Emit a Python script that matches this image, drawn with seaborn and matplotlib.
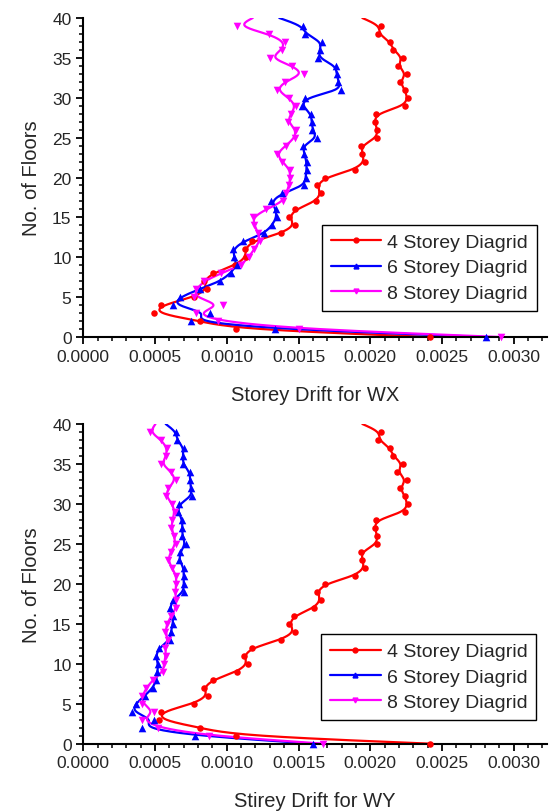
import numpy as np
import pandas as pd
import matplotlib
matplotlib.use("Agg")
import matplotlib.pyplot as plt
import seaborn as sns
from matplotlib.lines import Line2D
from matplotlib.ticker import MultipleLocator, FormatStrFormatter

# floors 0..40
floors = list(range(41))
labels = ["4 Storey Diagrid", "6 Storey Diagrid", "8 Storey Diagrid"]
colors = ["#ff0000", "#0000ff", "#ff00ff"]
markers = ["o", "^", "v"]

# storey drift for WX (floor 0 -> 40)
red_wx = [0.00242, 0.001065, 0.000815, 0.000496, 0.000544, 0.00077, 0.000864, 0.000838, 0.000901, 0.00106,
          0.001134, 0.001128, 0.001174, 0.001378, 0.001475, 0.001435, 0.001477, 0.00162, 0.001656, 0.001628,
          0.001685, 0.001892, 0.001961, 0.001944, 0.001938, 0.002047, 0.002049, 0.00203, 0.002042, 0.002239,
          0.00226, 0.00224, 0.002206, 0.002253, 0.00219, 0.002227, 0.00216, 0.00214, 0.002056, 0.002072,
          0.001945]
blue_wx = [0.00281, 0.001338, 0.000748, 0.00088, 0.000625, 0.000672, 0.00081, 0.000956, 0.001026, 0.00107,
           0.001053, 0.001042, 0.001116, 0.001262, 0.001315, 0.001347, 0.001343, 0.001308, 0.001385, 0.00154,
           0.00155, 0.001556, 0.001556, 0.00154, 0.001528, 0.001632, 0.001597, 0.001593, 0.001586, 0.001524,
           0.001547, 0.001799, 0.001778, 0.001767, 0.00176, 0.001637, 0.001648, 0.001662, 0.001547, 0.001528,
           0.001366]
mag_wx = [0.00291, 0.001505, 0.000938, 0.000783, 0.000972, 0.000771, 0.000787, 0.00084, 0.000961, 0.0011,
          0.001153, 0.00119, 0.001232, 0.00122, 0.001192, 0.00118, 0.001273, 0.001394, 0.001412, 0.001435,
          0.001442, 0.00144, 0.001385, 0.001347, 0.001412, 0.001475, 0.001482, 0.001424, 0.001447, 0.001482,
          0.001431, 0.001347, 0.001403, 0.001535, 0.001458, 0.001301, 0.001385, 0.001406, 0.001292, 0.001072,
          0.001181]

# storey drift for WY
red_wy = [0.00242, 0.001065, 0.000815, 0.00053, 0.000544, 0.000769, 0.000868, 0.000838, 0.000903, 0.001072,
          0.001146, 0.001118, 0.001176, 0.001378, 0.001475, 0.001435, 0.00147, 0.00161, 0.001656, 0.001628,
          0.001685, 0.001892, 0.001961, 0.001944, 0.001938, 0.002047, 0.002049, 0.00203, 0.002042, 0.002239,
          0.00226, 0.00224, 0.002206, 0.002253, 0.002188, 0.002227, 0.002158, 0.00214, 0.002056, 0.002072,
          0.001945]
blue_wy = [0.001604, 0.000776, 0.00041, 0.000493, 0.00034, 0.000364, 0.000428, 0.000486, 0.000509, 0.000517,
           0.000521, 0.000505, 0.000528, 0.000607, 0.000609, 0.000625, 0.000625, 0.000602, 0.000625, 0.0007,
           0.0007, 0.0007, 0.0007, 0.000667, 0.000676, 0.000713, 0.00069, 0.00069, 0.00069, 0.00066,
           0.000667, 0.00076, 0.000748, 0.000746, 0.000741, 0.000694, 0.000694, 0.0007, 0.000653, 0.000648,
           0.000574]
mag_wy = [0.001674, 0.000873, 0.000521, 0.000412, 0.000495, 0.000412, 0.000412, 0.00044, 0.000486, 0.000556,
          0.000563, 0.000574, 0.000572, 0.00059, 0.000572, 0.000583, 0.000614, 0.000648, 0.000644, 0.000642,
          0.000648, 0.000648, 0.000618, 0.00059, 0.000609, 0.000644, 0.000632, 0.000614, 0.000621, 0.000637,
          0.000621, 0.000574, 0.000593, 0.000644, 0.000614, 0.000544, 0.000579, 0.000583, 0.000544, 0.000463,
          0.000503]


def smooth(x, y, n=12):
    # uniform cubic b-spline with the data as control points (origin b-spline look)
    p = np.column_stack([x, y]).astype(float)
    p = np.vstack([2 * p[0] - p[1], p, 2 * p[-1] - p[-2]])
    t = np.linspace(0, 1, n, endpoint=False)[:, None]
    b0 = (1 - t)**3 / 6
    b1 = (3 * t**3 - 6 * t**2 + 4) / 6
    b2 = (-3 * t**3 + 3 * t**2 + 3 * t + 1) / 6
    b3 = t**3 / 6
    out = []
    for i in range(len(p) - 3):
        out.append(b0 * p[i] + b1 * p[i + 1] + b2 * p[i + 2] + b3 * p[i + 3])
    out.append((p[-3] + 4 * p[-2] + p[-1])[None, :] / 6)
    out = np.vstack(out)
    return out[:, 0], out[:, 1]


def draw_panel(ax, series, xlabel, legend_anchor):
    for vals, c, m in zip(series, colors, markers):
        sx, sy = smooth(vals, floors)
        curve = pd.DataFrame({"drift": sx, "floor": sy})
        sns.lineplot(data=curve, x="drift", y="floor", sort=False, estimator=None,
                     color=c, linewidth=1.6, ax=ax)
        pts = pd.DataFrame({"drift": vals[:-1], "floor": floors[:-1]})
        sns.scatterplot(data=pts, x="drift", y="floor", marker=m, s=22 if m == "o" else 30,
                        color=c, edgecolor=c, linewidth=0, ax=ax, clip_on=False, zorder=3)

    ax.set_xlim(0, 0.00323)
    ax.set_ylim(0, 40)
    ax.xaxis.set_major_locator(MultipleLocator(0.0005))
    ax.xaxis.set_minor_locator(MultipleLocator(0.0001))
    ax.xaxis.set_major_formatter(FormatStrFormatter("%.4f"))
    ax.yaxis.set_major_locator(MultipleLocator(5))
    ax.yaxis.set_minor_locator(MultipleLocator(1))
    ax.tick_params(which="major", direction="out", length=5, width=1.3, labelsize=12.5, color="black")
    ax.tick_params(which="minor", direction="out", length=3, width=1.1, color="black")
    for s in ["left", "bottom"]:
        ax.spines[s].set_linewidth(1.5)
        ax.spines[s].set_color("black")
    sns.despine(ax=ax)
    ax.set_xlabel(xlabel, fontsize=14.5, labelpad=15)
    ax.set_ylabel("No. of Floors", fontsize=14.5, labelpad=8)

    handles = [Line2D([], [], color=c, marker=m, markersize=3.5, linewidth=1.6)
               for c, m in zip(colors, markers)]
    leg = ax.legend(handles, labels, loc="upper right", bbox_to_anchor=legend_anchor,
                    borderaxespad=0, fontsize=14, frameon=True, fancybox=False, framealpha=1,
                    handlelength=2.6, handletextpad=0.3, labelspacing=0.4, borderpad=0.45)
    leg.get_frame().set_edgecolor("black")
    leg.get_frame().set_linewidth(1.0)


sns.set_theme(style="ticks")
plt.rcParams["font.family"] = ["Liberation Sans", "DejaVu Sans"]

fig = plt.figure(figsize=(5.5, 8.12), dpi=100)
ax1 = fig.add_axes([0.1515, 0.5837, 0.8425, 0.3929])
ax2 = fig.add_axes([0.1515, 0.0829, 0.8425, 0.3937])

draw_panel(ax1, [red_wx, blue_wx, mag_wx], "Storey Drift for WX", (0.978, 0.352))
draw_panel(ax2, [red_wy, blue_wy, mag_wy], "Stirey Drift for WY", (0.977, 0.343))

fig.savefig("out.png", dpi=100)
